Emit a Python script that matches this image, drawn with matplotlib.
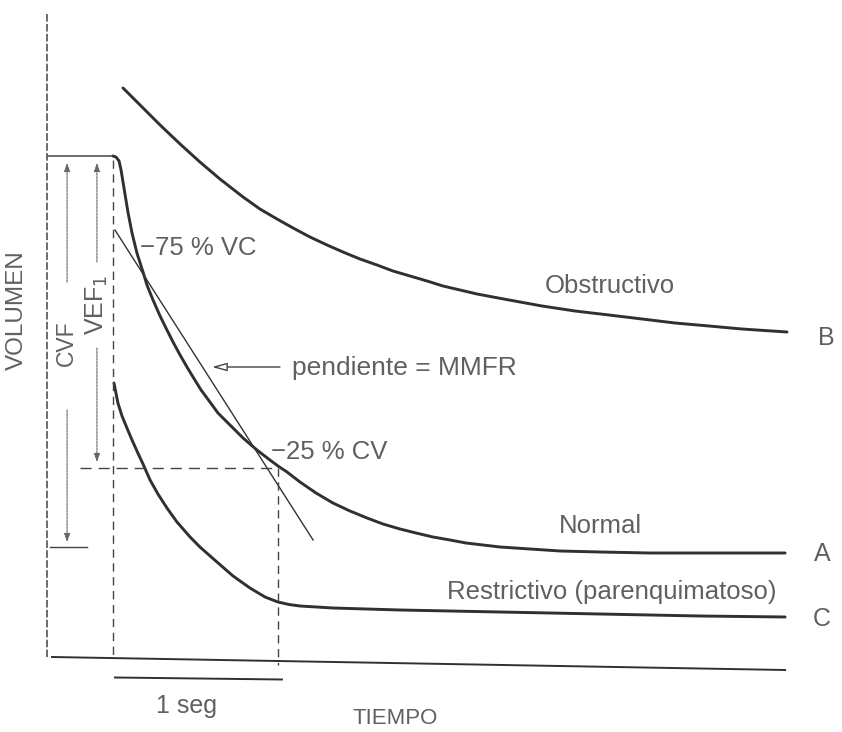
import matplotlib
matplotlib.use("Agg")
import matplotlib.pyplot as plt

# ---------------- data (time in s, volume in L) ----------------
normal_t = [-0.396, 0.000, 0.018, 0.037, 0.049, 0.067, 0.091, 0.116, 0.146, 0.183,
            0.207, 0.244, 0.287, 0.329, 0.366, 0.409, 0.451, 0.488, 0.537, 0.591,
            0.640, 0.695, 0.744, 0.793, 0.835, 0.878, 0.921, 0.957, 1.006, 1.061,
            1.140, 1.238, 1.341, 1.445, 1.549, 1.646, 1.750, 1.848, 1.951, 2.055,
            2.152, 2.256, 2.360, 2.543, 2.726, 2.970, 3.274, 4.098]
normal_v = [5.06, 5.06, 5.05, 5.01, 4.92, 4.74, 4.50, 4.29, 4.09, 3.90,
            3.77, 3.62, 3.46, 3.32, 3.20, 3.07, 2.95, 2.85, 2.72, 2.60,
            2.49, 2.40, 2.32, 2.24, 2.18, 2.12, 2.065, 2.02, 1.96, 1.90,
            1.80, 1.69, 1.59, 1.51, 1.44, 1.38, 1.33, 1.29, 1.25, 1.22,
            1.19, 1.17, 1.15, 1.13, 1.11, 1.10, 1.09, 1.09]

obstr_t = [0.061, 0.165, 0.287, 0.409, 0.530, 0.652, 0.793, 0.896, 1.000, 1.098,
           1.201, 1.305, 1.402, 1.506, 1.610, 1.707, 1.811, 1.915, 2.012, 2.116,
           2.220, 2.317, 2.415, 2.616, 2.817, 3.024, 3.226, 3.427, 3.634, 3.835,
           4.110]
obstr_v = [5.74, 5.57, 5.37, 5.18, 5.00, 4.83, 4.65, 4.53, 4.43, 4.34,
           4.25, 4.17, 4.10, 4.03, 3.97, 3.91, 3.86, 3.81, 3.76, 3.72,
           3.68, 3.65, 3.62, 3.56, 3.51, 3.47, 3.43, 3.39, 3.36, 3.33,
           3.30]

restr_t = [0.006, 0.030, 0.055, 0.085, 0.116, 0.146, 0.183, 0.226, 0.274, 0.329, 0.390,
           0.470, 0.530, 0.634, 0.732, 0.835, 0.927, 1.006, 1.073, 1.140, 1.341, 1.750,
           2.360, 2.970, 3.579, 4.098]
restr_v = [2.79, 2.59, 2.46, 2.34, 2.22, 2.11, 1.98, 1.82, 1.68, 1.54, 1.40,
           1.25, 1.15, 1.00, 0.86, 0.74, 0.65, 0.60, 0.575, 0.56, 0.54, 0.52,
           0.50, 0.48, 0.46, 0.45]

mmfr_t = [0.012, 1.220]          # tangent line (pendiente = MMFR)
mmfr_v = [4.32, 1.22]

fev1_t = 1.006                   # 1 second mark
fev1_v = 1.94                    # volume at 1 s (normal)
fvc_bottom_v = 1.15

axis_y_t = -0.402
axis_top_v = 6.48
base_t = [-0.372, 4.098]
base_v = [0.05, -0.08]

curve_labels = ["Obstructivo", "Normal", "Restrictivo (parenquimatoso)"]
curve_letters = ["B", "A", "C"]

# ---------------- figure ----------------
W, H = 842, 732
fig = plt.figure(figsize=(W / 100, H / 100), dpi=100)
ax = fig.add_axes([0, 0, 1, 1])
ax.set_xlim(-113 / 164, (W - 113) / 164)
ax.set_ylim(-0.70, 6.62)
ax.axis("off")

LC = "#303030"
TC = "#606060"
FONT = "Liberation Sans"

# axes lines
ax.plot([axis_y_t, axis_y_t], [axis_top_v, base_v[0]], color="#444", lw=1.1,
        linestyle=(0, (5, 1.5)))
ax.plot(base_t, base_v, color=LC, lw=1.4)

# curves
ax.plot(normal_t[:2], normal_v[:2], color="#444", lw=1.1)
ax.plot(normal_t[1:], normal_v[1:], color=LC, lw=2.1, solid_capstyle="round",
        solid_joinstyle="round")
ax.plot(obstr_t, obstr_v, color=LC, lw=2.1, solid_capstyle="round", solid_joinstyle="round")
ax.plot(restr_t, restr_v, color=LC, lw=2.1, solid_capstyle="round", solid_joinstyle="round")
ax.plot(mmfr_t, mmfr_v, color="#333", lw=1.0)

# dashed guides
ax.plot([0.0, 0.0], [5.02, 0.02], color="#444", lw=1.0, linestyle=(0, (6, 4)))
ax.plot([-0.201, fev1_t], [fev1_v, fev1_v], color="#444", lw=1.0, linestyle=(0, (8, 5)))
ax.plot([fev1_t, fev1_t], [fev1_v, -0.03], color="#444", lw=1.0, linestyle=(0, (6, 4)))
ax.plot([-0.384, -0.159], [fvc_bottom_v, fvc_bottom_v], color="#444", lw=1.0)

# 1 seg bar
ax.plot([0.012, 1.03], [-0.155, -0.175], color=LC, lw=1.4)

# CVF / VEF1 arrows
ap = dict(arrowstyle="-|>,head_length=0.5,head_width=0.18", color="#666", lw=0.8,
          shrinkA=0, shrinkB=0, linestyle=(0, (2, 1)))
for t, top, seg_top, seg_bot, tip in [(-0.280, 4.99, 3.80, 2.52, 1.20),
                                      (-0.098, 4.99, 4.00, 3.14, 2.00)]:
    ax.annotate("", xy=(t, top), xytext=(t, seg_top), arrowprops=ap)
    ax.annotate("", xy=(t, tip), xytext=(t, seg_bot), arrowprops=ap)

ax.text(-0.285, (662 - 343) / 100, "CVF", rotation=90, ha="center", va="center",
        fontsize=16.5, color=TC, family=FONT)
ax.text(-0.098, 3.57, "VEF$_1$", rotation=90, ha="center", va="center",
        fontsize=18, color=TC, family=FONT)

# MMFR arrow
ax.annotate("", xy=(0.604, 2.95), xytext=(1.018, 2.95),
            arrowprops=dict(arrowstyle="-|>,head_length=0.9,head_width=0.25",
                            fc="white", ec="#444", lw=1.0, shrinkA=0, shrinkB=0))
ax.text((292 - 113) / 164, 2.94, "pendiente = MMFR", ha="left", va="center",
        fontsize=19, color=TC, family=FONT)

ax.text((140 - 113) / 164, (662 - 248) / 100, "\u221275 % VC", ha="left", va="center",
        fontsize=18.5, color=TC, family=FONT)
ax.text((271 - 113) / 164, (662 - 452) / 100, "\u221225 % CV", ha="left", va="center",
        fontsize=18.5, color=TC, family=FONT)

# curve labels
label_pos = [((610 - 113) / 164, (662 - 286) / 100),
             ((600 - 113) / 164, (662 - 526) / 100),
             ((612 - 113) / 164, (662 - 592) / 100)]
letter_pos = [((826 - 113) / 164, (662 - 338) / 100),
              ((822 - 113) / 164, (662 - 554) / 100),
              ((822 - 113) / 164, (662 - 619) / 100)]
for lab, (x, y) in zip(curve_labels, label_pos):
    ax.text(x, y, lab, ha="center", va="center", fontsize=18.5, color=TC, family=FONT)
for lab, (x, y) in zip(curve_letters, letter_pos):
    ax.text(x, y, lab, ha="center", va="center", fontsize=18, color=TC, family=FONT)

# axis titles
ax.text((17 - 113) / 164, (662 - 310) / 100, "VOLUMEN", rotation=90, ha="center",
        va="center", fontsize=17.5, color=TC, family=FONT)
ax.text((395 - 113) / 164, (662 - 718) / 100, "TIEMPO", ha="center", va="center",
        fontsize=16, color=TC, family=FONT)
ax.text((187 - 113) / 164, (662 - 706) / 100, "1 seg", ha="center", va="center",
        fontsize=18, color=TC, family=FONT)

fig.savefig("out.png", dpi=100, facecolor="white")
